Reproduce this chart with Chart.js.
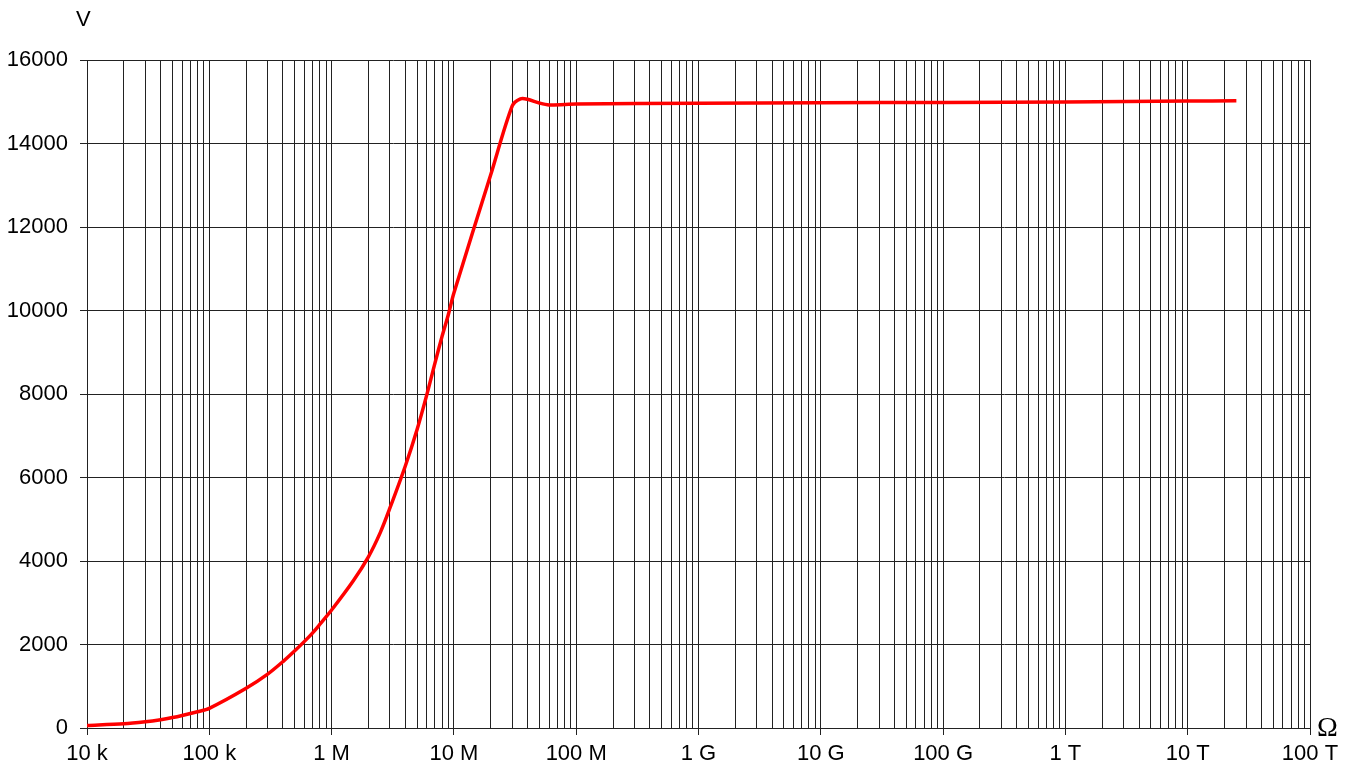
<!DOCTYPE html>
<html>
<head>
<meta charset="utf-8">
<script src="https://cdn.jsdelivr.net/npm/chart.js@4"></script>
<style>
	html, body { margin: 0; padding: 0; background: #fff; }
	#wrap { position: relative; width: 1359px; height: 771px; }
</style>
</head>
<body>
<div id="wrap"><canvas id="chart"></canvas></div>
<script>
// resistance in ohms, voltage in volts
const resistance = [1e4, 2e4, 3e4, 4e4, 5e4, 6e4, 8e4, 1e5, 2e5, 3e5, 4e5, 5e5, 6e5, 7e5, 8e5, 1e6,
	1.5e6, 2e6, 2.5e6, 3e6, 4e6, 5e6, 6e6, 7e6, 8e6, 9e6, 1e7, 2e7, 3e7, 3.5e7, 4e7, 5e7, 6e7,
	1e8, 1e9, 1e10, 1e11, 1e12, 1e13, 2.5e13];
const voltage = [60, 100, 150, 200, 250, 300, 390, 470, 950, 1290, 1590, 1850, 2075, 2280, 2480, 2825,
	3520, 4100, 4680, 5270, 6270, 7150, 7980, 8740, 9380, 9900, 10420, 13250, 14900, 15070, 15060, 14970, 14925,
	14945, 14965, 14975, 14985, 14995, 15015, 15025];

const decadeLabels = ["10 k", "100 k", "1 M", "10 M", "100 M", "1 G", "10 G", "100 G", "1 T", "10 T", "100 T"];
const yTicks = [0, 2000, 4000, 6000, 8000, 10000, 12000, 14000, 16000];

const xMin = 1e4, xMax = 1e14;
const gridColor = "#222";

function isDecade(v) {
	const e = Math.log10(v);
	return Math.abs(e - Math.round(e)) < 1e-9;
}

// axis unit letters
const unitLabels = {
	id: "unitLabels",
	afterDraw(chart) {
		const ctx = chart.ctx;
		ctx.save();
		ctx.fillStyle = "#000";
		ctx.textBaseline = "alphabetic";
		ctx.textAlign = "left";
		ctx.font = "22px 'Liberation Sans', Arial, sans-serif";
		ctx.fillText("V", 76, 26);
		ctx.font = "28px 'Liberation Serif', 'Times New Roman', serif";
		ctx.fillText("Ω", 1317, 736);
		ctx.restore();
	}
};

const points = resistance.map((r, i) => ({ x: r, y: voltage[i] }));

new Chart(document.getElementById("chart"), {
	type: "line",
	data: {
		datasets: [{
			data: points,
			borderColor: "#ff0000",
			borderWidth: 3.5,
			pointRadius: 0,
			fill: false,
			tension: 0.3
		}]
	},
	options: {
		responsive: true,
		maintainAspectRatio: false,
		animation: false,
		layout: { padding: { top: 60, right: 49, left: 0, bottom: 0 } },
		plugins: { legend: { display: false }, tooltip: { enabled: false } },
		scales: {
			x: {
				type: "logarithmic",
				min: xMin,
				max: xMax,
				afterBuildTicks(scale) {
					const ticks = [];
					for (let e = 4; e < 14; e++) {
						for (let m = 1; m <= 9; m++) ticks.push({ value: m * Math.pow(10, e) });
					}
					ticks.push({ value: 1e14 });
					scale.ticks = ticks;
				},
				afterFit(scale) { scale.height = 43; },
				ticks: {
					autoSkip: false,
					maxRotation: 0,
					padding: 6,
					color: "#000",
					font: { family: "'Liberation Sans', Arial, sans-serif", size: 22 },
					callback(value) {
						if (!isDecade(value)) return "";
						return decadeLabels[Math.round(Math.log10(value)) - 4];
					}
				},
				grid: {
					color: gridColor,
					lineWidth: 1,
					tickLength: 7,
					tickColor(ctx) {
						return ctx.tick && isDecade(ctx.tick.value) ? gridColor : "rgba(0,0,0,0)";
					}
				},
				border: { color: gridColor, width: 1 }
			},
			y: {
				type: "linear",
				min: 0,
				max: 16000,
				afterBuildTicks(scale) {
					scale.ticks = yTicks.map(v => ({ value: v }));
				},
				afterFit(scale) { scale.width = 87; },
				ticks: {
					padding: 12,
					color: "#000",
					font: { family: "'Liberation Sans', Arial, sans-serif", size: 22 },
					callback(value) { return String(value); }
				},
				grid: { color: gridColor, lineWidth: 1, tickLength: 7, tickColor: gridColor },
				border: { color: gridColor, width: 1 }
			}
		}
	},
	plugins: [unitLabels]
});
</script>
</body>
</html>
